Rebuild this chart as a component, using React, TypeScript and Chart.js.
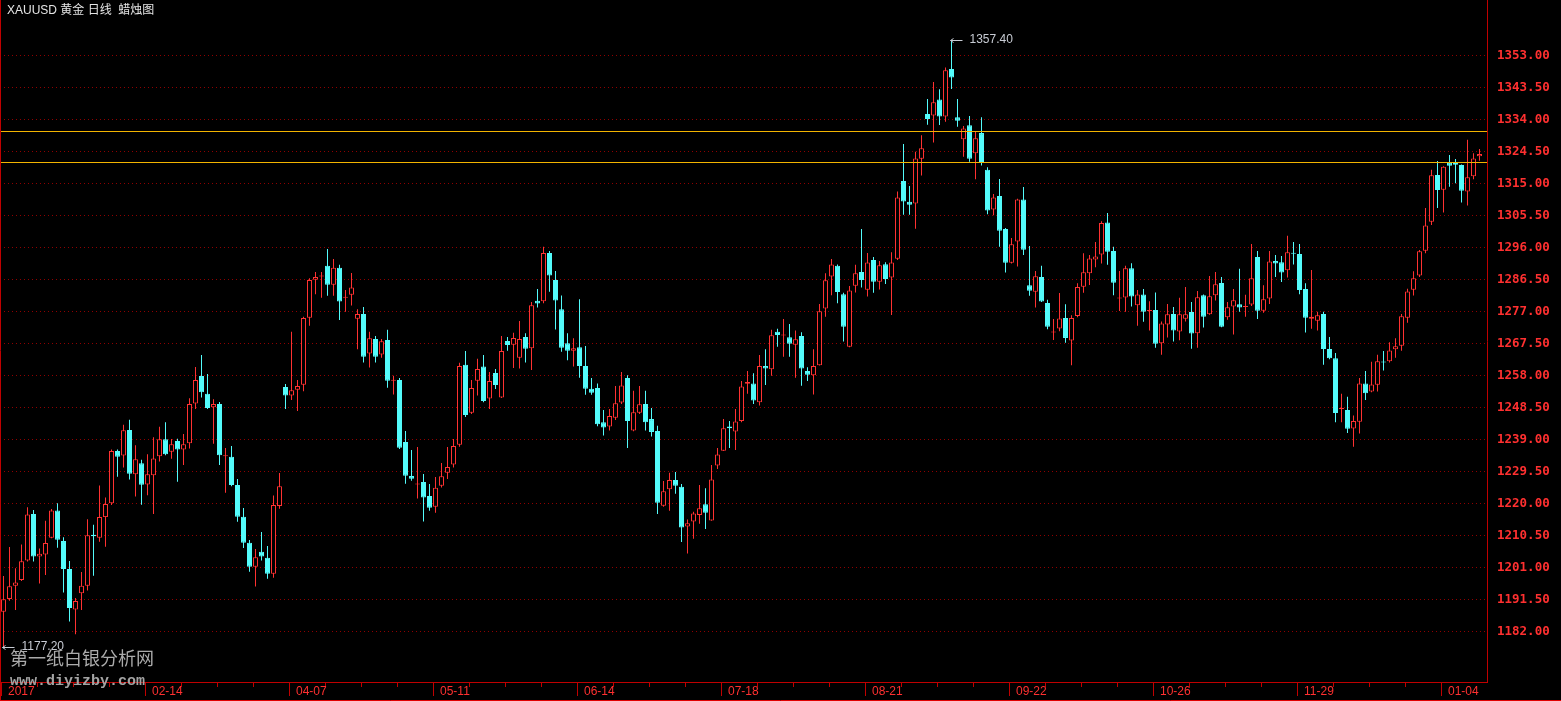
import React, { useEffect, useRef } from "react";
import { Chart, registerables } from "chart.js";

Chart.register(...registerables);

// ---- data (daily XAUUSD candles) ----
const OPEN = [
  1187.8, 1191.6, 1195.5, 1197.2, 1203.0, 1216.8, 1204.2, 1204.8, 1209.8, 1217.9,
  1208.8, 1200.5, 1188.5, 1193.3, 1195.5, 1210.7, 1209.8, 1215.9, 1220.0, 1235.5,
  1234.2, 1241.8, 1228.6, 1231.9, 1225.6, 1228.3, 1234.0, 1239.0, 1235.3, 1238.5,
  1236.0, 1237.8, 1249.6, 1257.8, 1252.5, 1248.5, 1249.5, 1234.0, 1233.8, 1225.4,
  1216.0, 1208.3, 1201.2, 1205.6, 1203.8, 1199.1, 1219.2, 1254.5, 1252.0, 1253.7,
  1255.2, 1275.1, 1286.4, 1287.3, 1290.5, 1284.9, 1289.9, 1281.0, 1281.9, 1274.8,
  1276.2, 1264.5, 1268.8, 1264.2, 1268.5, 1256.4, 1256.6, 1238.2, 1228.1, 1225.6,
  1226.3, 1222.2, 1219.0, 1225.2, 1229.1, 1231.5, 1237.4, 1261.1, 1246.9, 1256.4,
  1260.6, 1251.1, 1258.7, 1251.4, 1268.2, 1267.1, 1263.2, 1269.4, 1266.0, 1280.1,
  1280.0, 1294.3, 1286.3, 1277.6, 1267.5, 1265.3, 1266.3, 1260.8, 1254.0, 1254.2,
  1244.1, 1242.8, 1245.4, 1249.9, 1257.2, 1241.6, 1246.9, 1249.5, 1245.0, 1241.5,
  1219.3, 1224.2, 1226.9, 1224.9, 1213.1, 1214.6, 1216.5, 1219.7, 1214.9, 1231.2,
  1235.6, 1242.8, 1241.3, 1244.4, 1255.5, 1255.6, 1250.0, 1260.8, 1259.8, 1270.9,
  1269.8, 1269.3, 1267.1, 1269.7, 1259.3, 1258.0, 1261.0, 1277.8, 1287.3, 1290.5,
  1282.1, 1266.5, 1284.6, 1288.7, 1283.4, 1292.2, 1285.8, 1291.0, 1287.0, 1292.6,
  1315.7, 1309.5, 1309.0, 1322.3, 1335.6, 1335.1, 1339.9, 1334.8, 1348.9, 1334.6,
  1328.1, 1332.2, 1323.9, 1329.9, 1319.0, 1307.2, 1311.2, 1301.4, 1291.4, 1297.7,
  1310.2, 1284.7, 1282.8, 1287.2, 1279.5, 1270.7, 1271.9, 1275.0, 1268.3, 1275.6,
  1284.3, 1288.3, 1292.4, 1293.9, 1303.4, 1294.9, 1280.8, 1281.1, 1289.8, 1278.8,
  1282.0, 1277.1, 1277.4, 1267.5, 1273.1, 1276.2, 1271.0, 1274.8, 1276.8, 1270.5,
  1281.8, 1276.1, 1281.8, 1285.4, 1275.2, 1278.4, 1279.1, 1278.3, 1279.0, 1293.1,
  1277.2, 1280.8, 1291.9, 1291.6, 1289.2, 1294.3, 1294.0, 1283.6, 1274.8, 1274.2,
  1276.2, 1265.8, 1263.1, 1248.0, 1247.7, 1242.2, 1244.2, 1255.6, 1253.2, 1255.2,
  1262.0, 1262.2, 1265.7, 1266.8, 1275.1, 1283.4, 1287.6, 1295.0, 1303.6, 1317.5,
  1313.1, 1321.1, 1321.1, 1320.4, 1312.6, 1317.1, 1323.0,
];
const HIGH = [
  1198.4, 1207.0, 1200.7, 1207.8, 1218.8, 1218.0, 1206.6, 1214.8, 1218.3, 1220.0,
  1209.9, 1202.9, 1191.9, 1199.6, 1215.3, 1213.6, 1225.3, 1221.7, 1236.0, 1236.0,
  1243.3, 1244.8, 1237.2, 1232.9, 1234.6, 1239.6, 1242.7, 1244.1, 1239.1, 1239.2,
  1240.6, 1251.2, 1260.5, 1264.0, 1258.4, 1250.9, 1250.1, 1236.4, 1237.0, 1227.2,
  1218.6, 1209.1, 1206.4, 1211.5, 1207.3, 1222.3, 1229.0, 1255.4, 1270.9, 1256.6,
  1275.4, 1286.8, 1288.7, 1288.7, 1295.5, 1292.5, 1290.8, 1283.3, 1288.4, 1277.6,
  1278.3, 1270.9, 1269.7, 1268.8, 1271.5, 1257.9, 1257.2, 1241.5, 1235.8, 1236.7,
  1228.7, 1225.7, 1227.8, 1232.0, 1236.7, 1239.1, 1261.7, 1265.2, 1256.6, 1262.9,
  1264.0, 1259.0, 1259.9, 1269.7, 1269.4, 1270.6, 1274.1, 1270.5, 1279.8, 1283.6,
  1296.2, 1294.9, 1289.0, 1281.7, 1270.5, 1269.0, 1280.6, 1266.7, 1257.2, 1255.6,
  1247.7, 1248.0, 1254.8, 1259.0, 1258.0, 1253.4, 1254.8, 1253.4, 1248.3, 1243.0,
  1226.6, 1229.1, 1229.3, 1225.7, 1215.2, 1217.5, 1225.4, 1224.5, 1231.4, 1236.4,
  1245.0, 1244.4, 1248.0, 1256.3, 1259.3, 1258.6, 1264.0, 1265.7, 1271.5, 1271.8,
  1274.7, 1273.2, 1271.3, 1270.8, 1260.4, 1265.7, 1279.2, 1288.3, 1292.5, 1290.9,
  1282.5, 1284.5, 1290.8, 1301.4, 1294.3, 1293.1, 1291.9, 1291.6, 1294.5, 1312.6,
  1326.7, 1314.2, 1324.4, 1329.3, 1340.0, 1345.1, 1342.9, 1349.4, 1357.4, 1340.0,
  1332.0, 1335.0, 1330.3, 1334.6, 1319.8, 1311.8, 1316.3, 1301.7, 1298.8, 1310.4,
  1313.9, 1296.4, 1289.0, 1290.5, 1280.4, 1274.7, 1282.4, 1279.1, 1275.8, 1285.3,
  1294.2, 1293.7, 1297.6, 1303.7, 1306.2, 1296.2, 1289.0, 1290.5, 1291.3, 1283.3,
  1283.6, 1280.0, 1282.6, 1274.0, 1279.2, 1278.3, 1281.0, 1284.2, 1279.8, 1283.0,
  1282.0, 1287.5, 1288.7, 1287.2, 1279.8, 1283.6, 1289.6, 1281.9, 1297.0, 1294.9,
  1284.7, 1294.9, 1293.7, 1293.4, 1299.4, 1297.6, 1297.0, 1285.3, 1289.3, 1276.9,
  1276.9, 1269.4, 1264.6, 1252.5, 1251.6, 1246.1, 1257.2, 1259.3, 1262.0, 1264.1,
  1265.2, 1267.8, 1269.0, 1276.2, 1283.7, 1288.9, 1295.2, 1307.7, 1319.0, 1321.6,
  1320.1, 1323.4, 1322.2, 1320.6, 1327.9, 1323.9, 1325.2,
];
const LOW = [
  1177.2, 1191.1, 1188.3, 1196.9, 1202.7, 1202.7, 1196.2, 1198.7, 1209.6, 1206.8,
  1193.5, 1184.9, 1181.1, 1188.3, 1194.1, 1198.5, 1208.6, 1207.1, 1219.5, 1227.9,
  1230.6, 1227.1, 1222.0, 1219.6, 1222.4, 1216.8, 1232.4, 1234.3, 1233.2, 1226.4,
  1231.4, 1236.3, 1248.0, 1251.4, 1248.0, 1237.7, 1231.4, 1223.1, 1225.1, 1214.5,
  1206.7, 1199.7, 1195.3, 1203.0, 1197.6, 1197.9, 1218.4, 1248.0, 1250.7, 1247.4,
  1253.3, 1272.7, 1282.1, 1281.0, 1281.6, 1281.6, 1274.4, 1276.9, 1278.7, 1265.7,
  1261.8, 1260.3, 1261.8, 1263.2, 1254.3, 1252.3, 1236.1, 1225.8, 1226.7, 1221.4,
  1214.6, 1217.8, 1217.2, 1224.7, 1227.2, 1230.6, 1236.8, 1245.6, 1246.5, 1252.0,
  1250.0, 1248.0, 1253.9, 1251.3, 1265.3, 1260.2, 1260.0, 1261.8, 1259.6, 1278.1,
  1279.4, 1282.8, 1271.6, 1265.0, 1262.5, 1260.6, 1257.3, 1252.2, 1252.2, 1242.9,
  1240.1, 1241.6, 1244.7, 1249.5, 1236.4, 1241.4, 1246.5, 1241.6, 1239.8, 1216.8,
  1219.0, 1217.8, 1222.8, 1208.5, 1205.1, 1209.5, 1213.9, 1212.4, 1214.8, 1230.2,
  1235.5, 1236.4, 1235.8, 1244.1, 1252.5, 1249.5, 1249.0, 1255.1, 1257.9, 1266.5,
  1263.5, 1263.5, 1257.3, 1254.9, 1256.3, 1252.3, 1260.9, 1275.4, 1281.8, 1279.4,
  1268.0, 1266.3, 1282.6, 1284.1, 1281.4, 1282.5, 1283.5, 1285.1, 1275.9, 1292.2,
  1305.7, 1305.7, 1301.5, 1317.3, 1332.4, 1327.1, 1332.3, 1333.3, 1343.0, 1331.8,
  1322.9, 1321.4, 1316.2, 1320.3, 1305.8, 1305.5, 1296.2, 1288.5, 1291.2, 1290.3,
  1293.7, 1281.6, 1278.1, 1279.8, 1271.7, 1268.5, 1271.1, 1267.7, 1261.0, 1275.2,
  1282.5, 1284.8, 1290.1, 1291.2, 1290.8, 1281.8, 1277.1, 1276.9, 1278.4, 1272.7,
  1273.9, 1271.3, 1266.2, 1264.1, 1269.2, 1268.0, 1268.4, 1274.0, 1265.9, 1266.2,
  1272.2, 1276.0, 1280.2, 1272.3, 1274.5, 1270.1, 1276.9, 1275.4, 1278.6, 1274.7,
  1276.6, 1279.2, 1287.2, 1285.7, 1287.0, 1290.9, 1282.1, 1270.7, 1271.8, 1271.3,
  1261.1, 1262.8, 1244.1, 1244.1, 1240.9, 1236.8, 1240.7, 1250.7, 1253.0, 1253.2,
  1259.4, 1261.8, 1263.2, 1265.3, 1273.6, 1281.7, 1287.2, 1294.2, 1302.6, 1307.7,
  1306.3, 1314.0, 1315.0, 1309.3, 1308.4, 1316.2, 1321.7,
];
const CLOSE = [
  1191.5, 1195.4, 1196.5, 1202.8, 1216.7, 1204.2, 1205.0, 1208.2, 1217.9, 1209.2,
  1200.5, 1188.9, 1191.0, 1195.5, 1210.5, 1210.2, 1215.9, 1219.8, 1235.5, 1233.8,
  1241.7, 1228.8, 1233.1, 1225.5, 1228.6, 1233.3, 1239.0, 1234.6, 1237.5, 1236.0,
  1237.5, 1249.5, 1256.6, 1253.0, 1248.3, 1249.5, 1234.3, 1234.3, 1225.4, 1216.0,
  1208.3, 1201.2, 1204.0, 1204.2, 1199.1, 1219.5, 1225.1, 1252.0, 1253.6, 1254.8,
  1275.0, 1286.3, 1287.2, 1287.5, 1284.9, 1289.9, 1279.9, 1281.2, 1284.1, 1276.2,
  1263.5, 1269.0, 1263.5, 1268.1, 1256.4, 1256.6, 1236.5, 1228.2, 1227.3, 1225.8,
  1221.7, 1218.7, 1224.6, 1228.0, 1230.8, 1237.0, 1260.8, 1246.2, 1254.2, 1259.9,
  1250.4, 1256.3, 1255.1, 1265.2, 1267.0, 1269.1, 1268.8, 1265.9, 1278.8, 1279.3,
  1294.3, 1287.6, 1280.2, 1266.2, 1265.3, 1266.0, 1260.8, 1254.0, 1252.8, 1243.5,
  1242.5, 1245.9, 1249.7, 1255.0, 1244.4, 1247.0, 1249.4, 1244.1, 1241.2, 1220.2,
  1223.6, 1226.9, 1225.2, 1212.8, 1214.1, 1217.0, 1218.5, 1217.2, 1227.1, 1234.5,
  1242.3, 1242.3, 1244.3, 1254.7, 1256.0, 1250.5, 1260.8, 1260.0, 1269.9, 1270.0,
  1270.0, 1267.4, 1268.7, 1260.0, 1258.2, 1260.8, 1277.0, 1286.2, 1290.9, 1282.7,
  1272.4, 1283.2, 1288.3, 1286.3, 1291.5, 1285.8, 1290.7, 1286.6, 1291.5, 1310.8,
  1309.6, 1308.6, 1322.4, 1325.4, 1334.1, 1339.1, 1334.8, 1348.6, 1346.4, 1333.6,
  1331.3, 1322.3, 1328.4, 1321.3, 1306.9, 1310.8, 1300.9, 1291.4, 1296.9, 1310.2,
  1295.3, 1283.1, 1287.4, 1279.9, 1272.4, 1270.9, 1274.9, 1269.1, 1275.0, 1284.2,
  1288.6, 1292.7, 1293.3, 1303.2, 1294.7, 1285.5, 1281.0, 1289.8, 1281.4, 1282.0,
  1276.9, 1277.3, 1267.4, 1273.4, 1276.1, 1271.3, 1276.1, 1276.1, 1270.4, 1281.2,
  1275.4, 1281.5, 1285.0, 1272.4, 1278.2, 1280.3, 1278.1, 1278.5, 1286.8, 1277.2,
  1280.6, 1291.8, 1291.2, 1288.5, 1294.5, 1294.1, 1283.3, 1275.1, 1275.4, 1275.8,
  1265.8, 1263.1, 1246.8, 1248.2, 1242.1, 1244.4, 1255.6, 1252.7, 1255.3, 1262.2,
  1261.8, 1265.4, 1266.6, 1275.5, 1282.9, 1286.8, 1294.8, 1302.5, 1317.4, 1313.0,
  1319.9, 1320.2, 1320.5, 1312.8, 1316.8, 1322.4, 1323.7,
];

const Y_TICKS = [
  1182, 1191.5, 1201, 1210.5, 1220, 1229.5, 1239, 1248.5, 1258, 1267.5,
  1277, 1286.5, 1296, 1305.5, 1315, 1324.5, 1334, 1343.5, 1353,
];
const DATE_LABELS = ["2017", "02-14", "04-07", "05-11", "06-14", "07-18", "08-21", "09-22", "10-26", "11-29", "01-04"];
const DATE_LABEL_INDEX = [0, 24, 48, 72, 96, 120, 144, 168, 192, 216, 240];
const MINOR_TICK_STEP = 6;
const H_LINES = [1330.4, 1321.3];
const TITLE = "XAUUSD 黄金 日线  蜡烛图";
const WATERMARK_CN = "第一纸白银分析网";
const WATERMARK_URL = "www.diyizby.com";

const Y_MIN = 1166.95;
const Y_MAX = 1369.42;
const X_MIN = -0.5833;
const X_MAX = 247.4167;

const RED = "#FF3232";
const CYAN = "#54FCFC";
const FRAME = "#C00000";
const GRID = "#900000";
const ORANGE = "#F2B300";
const TEXT_RED = "#FF3030";
const ANNOT = "#C8CCD4";

export default function App() {
  const ref = useRef<HTMLCanvasElement | null>(null);

  useEffect(() => {
    document.body.style.margin = "0";
    document.body.style.background = "#000";
    const canvas = ref.current;
    if (!canvas) return;

    const idx = OPEN.map((_, i) => i);
    const up = idx.map((i) => CLOSE[i] >= OPEN[i]);
    const wickData = idx.map((i) => ({ x: i, y: [LOW[i], HIGH[i]] }));
    const bodyData = idx.map((i) => ({ x: i, y: [OPEN[i], CLOSE[i]] }));

    let hiIdx = 0;
    let loIdx = 0;
    idx.forEach((i) => {
      if (HIGH[i] > HIGH[hiIdx]) hiIdx = i;
      if (LOW[i] < LOW[loIdx]) loIdx = i;
    });

    const framePlugin = {
      id: "frame",
      beforeDraw(chart: any) {
        const ctx = chart.ctx;
        ctx.save();
        ctx.fillStyle = "#000";
        ctx.fillRect(0, 0, chart.width, chart.height);
        ctx.restore();
      },
      afterDatasetsDraw(chart: any) {
        const { ctx, chartArea: a } = chart;
        const y = chart.scales.y;
        ctx.save();
        ctx.strokeStyle = ORANGE;
        ctx.lineWidth = 1;
        H_LINES.forEach((v) => {
          const py = Math.round(y.getPixelForValue(v)) + 0.5;
          ctx.beginPath();
          ctx.moveTo(a.left, py);
          ctx.lineTo(a.right, py);
          ctx.stroke();
        });
        ctx.restore();
      },
      afterDraw(chart: any) {
        const { ctx, chartArea: a } = chart;
        const x = chart.scales.x;
        const y = chart.scales.y;
        const W = chart.width;
        const H = chart.height;
        ctx.save();
        ctx.lineWidth = 1;
        // frame
        ctx.strokeStyle = FRAME;
        ctx.beginPath();
        ctx.moveTo(0.5, 0);
        ctx.lineTo(0.5, H);
        ctx.moveTo(a.right - 0.5, 0);
        ctx.lineTo(a.right - 0.5, a.bottom + 1);
        ctx.moveTo(0, a.bottom + 0.5);
        ctx.lineTo(a.right, a.bottom + 0.5);
        ctx.stroke();
        ctx.strokeStyle = "#E00000";
        ctx.beginPath();
        ctx.moveTo(0, H - 0.5);
        ctx.lineTo(W, H - 0.5);
        ctx.stroke();

        // date ticks
        ctx.strokeStyle = FRAME;
        ctx.beginPath();
        for (let i = 0; i <= DATE_LABEL_INDEX[DATE_LABEL_INDEX.length - 1]; i += MINOR_TICK_STEP) {
          const px = Math.round(x.getPixelForValue(i) - 2.5) + 0.5;
          const major = DATE_LABEL_INDEX.includes(i);
          ctx.moveTo(px, a.bottom + 1);
          ctx.lineTo(px, a.bottom + (major ? 14 : 5));
        }
        ctx.stroke();
        ctx.fillStyle = TEXT_RED;
        ctx.font = '12px "Liberation Sans", Arial, sans-serif';
        ctx.textBaseline = "middle";
        ctx.textAlign = "left";
        DATE_LABELS.forEach((lab, k) => {
          const px = Math.round(x.getPixelForValue(DATE_LABEL_INDEX[k]) - 2.5);
          ctx.fillText(lab, px + 7, a.bottom + 10);
        });

        // title
        ctx.fillStyle = "#E4E4E4";
        ctx.font = '12px "Liberation Sans", "Noto Sans CJK SC", sans-serif';
        ctx.fillText(TITLE, 7, 10.5);

        // high / low annotations
        ctx.strokeStyle = ANNOT;
        ctx.fillStyle = ANNOT;
        ctx.font = '12px "Liberation Sans", Arial, sans-serif';
        const annot = (i: number, v: number) => {
          const px = Math.round(x.getPixelForValue(i)) - 0.5;
          const py = Math.round(y.getPixelForValue(v)) + 0.5;
          ctx.beginPath();
          ctx.moveTo(px, py);
          ctx.lineTo(px + 12, py);
          ctx.moveTo(px, py);
          ctx.lineTo(px + 3, py - 2);
          ctx.moveTo(px, py);
          ctx.lineTo(px + 3, py + 2);
          ctx.stroke();
          ctx.fillText(v.toFixed(2), px + 19, py - 1);
        };
        annot(hiIdx, HIGH[hiIdx]);
        annot(loIdx, LOW[loIdx]);

        // watermark
        ctx.fillStyle = "#ABABAB";
        ctx.font = '18px "Noto Sans CJK SC", sans-serif';
        ctx.textBaseline = "middle";
        ctx.fillText(WATERMARK_CN, 10, 658);
        ctx.fillStyle = "#A4A4A4";
        ctx.font = 'bold 15px "Liberation Mono", "DejaVu Sans Mono", monospace';
        ctx.textBaseline = "alphabetic";
        ctx.fillText(WATERMARK_URL, 10, 685);
        ctx.restore();
      },
    };

    const chart = new Chart(canvas, {
      type: "bar",
      data: {
        datasets: [
          {
            label: "wick",
            data: wickData as any,
            backgroundColor: idx.map((i) => (up[i] ? RED : CYAN)),
            borderWidth: 0,
            barThickness: 1,
            grouped: false,
            order: 2,
            inflateAmount: 0,
          } as any,
          {
            label: "body",
            data: bodyData as any,
            backgroundColor: idx.map((i) => (up[i] ? "#000000" : CYAN)),
            borderColor: idx.map((i) => (up[i] ? RED : CYAN)),
            borderWidth: 1,
            borderSkipped: false,
            barThickness: 5,
            grouped: false,
            order: 1,
            minBarLength: 1,
            inflateAmount: 0,
          } as any,
        ],
      },
      options: {
        responsive: false,
        maintainAspectRatio: false,
        animation: false,
        events: [],
        layout: { padding: { left: 0, top: 0, right: 0, bottom: 19 } },
        plugins: {
          legend: { display: false },
          tooltip: { enabled: false },
          title: { display: false },
        },
        scales: {
          x: {
            type: "linear",
            min: X_MIN,
            max: X_MAX,
            offset: false,
            display: false,
            grid: { display: false },
            ticks: { display: false },
            afterFit: (s: any) => {
              s.paddingLeft = 0;
              s.paddingRight = 0;
              s.height = 0;
            },
          },
          y: {
            type: "linear",
            position: "right",
            min: Y_MIN,
            max: Y_MAX,
            beginAtZero: false,
            afterBuildTicks: (s: any) => {
              s.ticks = Y_TICKS.map((v) => ({ value: v }));
            },
            afterFit: (s: any) => {
              s.width = 73;
              s.paddingTop = 0;
              s.paddingBottom = 0;
            },
            ticks: {
              autoSkip: false,
              color: TEXT_RED,
              padding: 9,
              font: { family: '"DejaVu Sans Mono", monospace', size: 12.5, weight: "bold", lineHeight: 1 },
              callback: (v: any) => Number(v).toFixed(2),
            },
            grid: { color: GRID, lineWidth: 1, drawTicks: false },
            border: { display: false, dash: [1, 3] },
          },
        },
      } as any,
      plugins: [framePlugin],
    });

    return () => chart.destroy();
  }, []);

  return (
    <div style={{ width: 1561, height: 701, background: "#000", overflow: "hidden" }}>
      <canvas ref={ref} width={1561} height={701} style={{ display: "block", width: 1561, height: 701 }} />
    </div>
  );
}
